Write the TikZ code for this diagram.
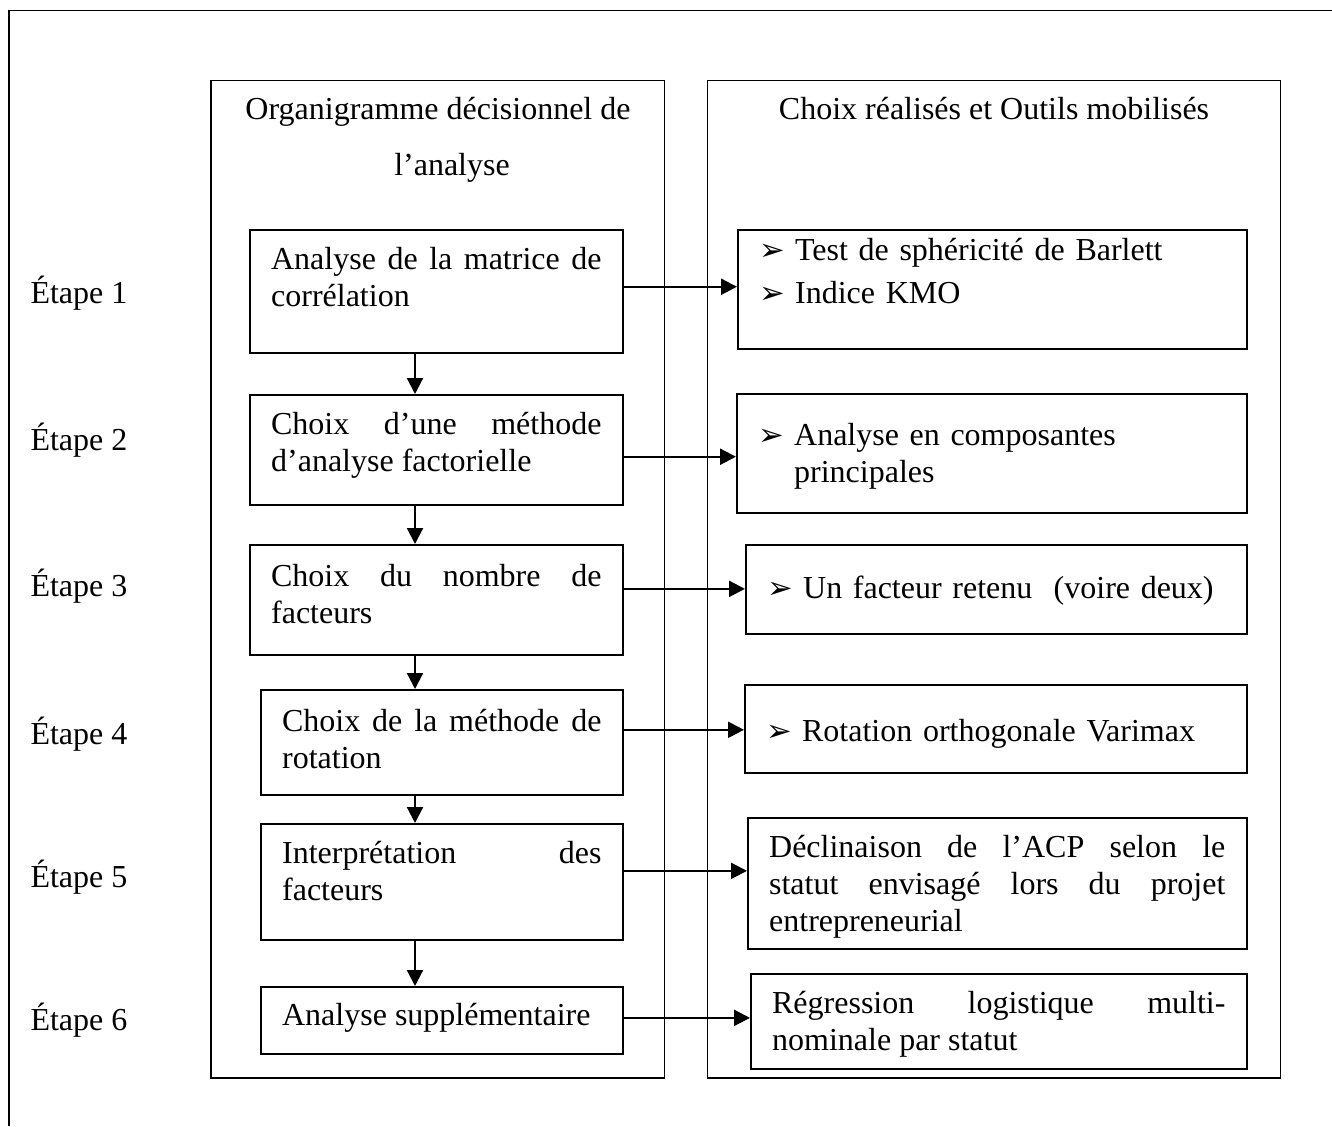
\documentclass[tikz,border=0pt]{standalone}
\usepackage{fontspec}
\setmainfont{Liberation Serif}
\newfontfamily\dejavu{DejaVu Sans}
\usetikzlibrary{arrows.meta,positioning}

% arrowhead bullet of the right column
\newcommand{\bul}{\makebox[13.5pt][l]{\dejavu\fontsize{11.5}{11.5}\selectfont ➢}}

\begin{document}
\begin{tikzpicture}[x=0.375pt, y=-0.375pt,
  every node/.style={font=\fontsize{12}{13.9}\selectfont},
  stepbox/.style={draw, line width=0.6pt, anchor=north west, inner xsep=8pt, inner ysep=0pt, align=justify},
  toolbox/.style={draw, line width=0.6pt, anchor=north west, inner xsep=8pt, inner ysep=0pt, align=left},
  frame/.style={draw, line width=0.6pt},
  etape/.style={anchor=base west, inner sep=0pt},
  arr/.style={-{Triangle[length=6pt, width=6pt]}, line width=0.8pt}
]
\useasboundingbox (0,0) rectangle (1332,1126);

% outer frame and the two columns
\draw[frame] (9,1126) -- (9,10.7) -- (1332,10.7);
\draw[frame] (210.7,80.7) rectangle (664.3,1077.7);
\draw[frame] (707.3,80.7) rectangle (1280.3,1077.7);

\node[anchor=base, align=center, inner sep=0pt] (hdL) at (438,176) {Organigramme décisionnel de\\[7.1pt]\hspace*{10.5pt}l’analyse};
\node[anchor=base, inner sep=0pt] (hdR) at (994,120) {Choix réalisés et Outils mobilisés};

% steps
\foreach \i/\y in {1/303,2/450,3/596,4/744,5/887,6/1030}
  \node[etape] (e\i) at (30,\y) {Étape \i};

% left column: decision chart
\node[stepbox, text width=123.9pt, text height=15pt, text depth=31.1pt] (b1) at (249,229) {Analyse de la matrice de\linebreak corrélation};
\node[stepbox, text width=123.9pt, text height=15pt, text depth=26.25pt] (b2) at (249,394) {Choix d’une méthode\linebreak d’analyse factorielle};
\node[stepbox, text width=123.9pt, text height=15.5pt, text depth=25.75pt] (b3) at (249,544) {Choix du nombre de\linebreak facteurs};
\node[stepbox, text width=119.75pt, text height=15.5pt, text depth=23.9pt] (b4) at (260,689) {Choix de la méthode de\linebreak rotation};
\node[stepbox, text width=119.75pt, text height=15pt, text depth=28.5pt] (b5) at (260,823) {Interprétation des\linebreak facteurs};
\node[stepbox, text width=119.75pt, text height=14.6pt, text depth=10.5pt] (b6) at (260,986) {Analyse supplémentaire};

% right column: choices and tools
\node[toolbox, text width=174.9pt, text height=11.6pt, text depth=33pt] (r1) at (737,229) {\bul Test de sphéricité de Barlett\\[2.2pt]\bul Indice KMO};
\node[toolbox, text width=175.25pt, text height=19.5pt, text depth=25.1pt] (r2) at (736,393) {\bul Analyse en composantes\\\hspace*{13.5pt}principales};
\node[toolbox, text width=171.9pt, text height=20.25pt, text depth=13.1pt] (r3) at (745,544) {\bul Un facteur retenu\ \ (voire deux)};
\node[toolbox, text width=172.25pt, text height=21.4pt, text depth=11.6pt] (r4) at (744,684) {\bul Rotation orthogonale Varimax};
\node[stepbox, text width=171.1pt, text height=15pt, text depth=34.1pt] (r5) at (747,817) {Déclinaison de l’ACP selon le\linebreak statut envisagé lors du projet\linebreak entrepreneurial};
\node[stepbox, text width=170pt, text height=15pt, text depth=20.6pt] (r6) at (750,973) {Régression logistique multi-\linebreak nominale par statut};

% links down the chart
\coordinate (spine) at (415,0);
\foreach \a/\b in {b1/b2,b2/b3,b3/b4,b4/b5,b5/b6}
  \draw[arr] (\a.south -| spine) -- (\b.north -| spine);

% links to the tools
\draw[arr] ([yshift=1.7pt]b1.east) coordinate (h1) -- (h1 -| r1.west);
\draw[arr] ([yshift=-2.6pt]b2.east) coordinate (h2) -- (h2 -| r2.west);
\draw[arr] ([yshift=4.1pt]b3.east) coordinate (h3) -- (h3 -| r3.west);
\draw[arr] ([yshift=4.7pt]b4.east) coordinate (h4) -- (h4 -| r4.west);
\draw[arr] ([yshift=4.1pt]b5.east) coordinate (h5) -- (h5 -| r5.west);
\draw[arr] ([yshift=0.9pt]b6.east) coordinate (h6) -- (h6 -| r6.west);
\end{tikzpicture}
\end{document}
